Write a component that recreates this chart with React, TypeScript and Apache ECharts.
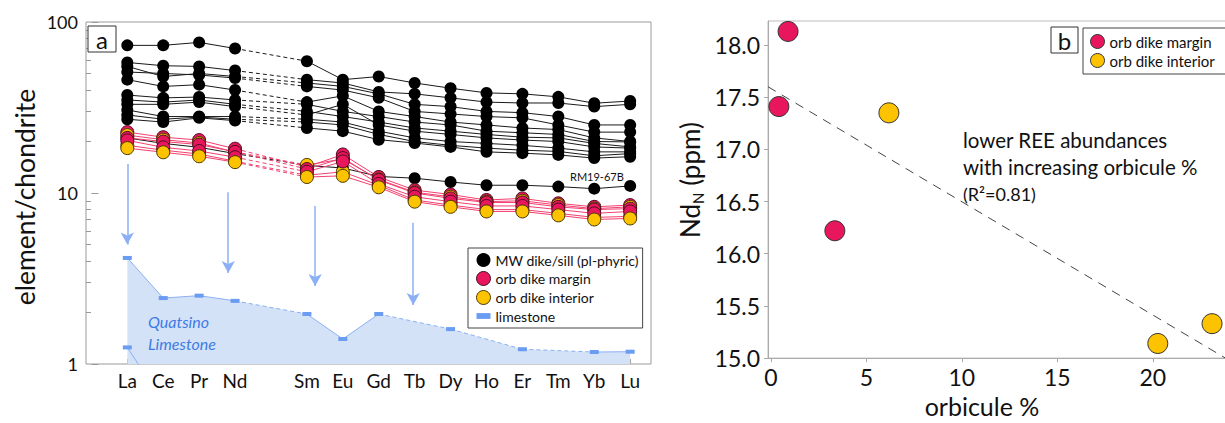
import React, { useEffect, useRef } from 'react';
import * as echarts from 'echarts';

const FONT = 'Lato';

// ---- Panel a: REE chondrite-normalized ----
const ELEMENTS = ['La', 'Ce', 'Pr', 'Nd', 'Pm', 'Sm', 'Eu', 'Gd', 'Tb', 'Dy', 'Ho', 'Er', 'Tm', 'Yb', 'Lu'];
const ELEMENT_TICKS = [1, 2, 3, 4, 5, 6, 7, 8, 9, 10, 11, 12, 13, 14, 15];
const ELEMENT_LABELS = [1, 2, 3, 4, 6, 7, 8, 9, 10, 11, 12, 13, 14, 15];

const MW_1 = [73, 73, 76, 70, null, 59, 46, 48, 44, 41, 38.5, 38, 36.5, 33.5, 34.5];
const MW_2 = [58, 55.5, 55, 52, null, 46, 44, 39, 38, 36, 34, 33.6, 33.6, 32, 33];
const MW_3 = [55, 48, 50, 48, null, 44, 42, 38, 33, 32, 30, 29.5, 28, 25, 25];
const MW_4 = [51, 50, 49, 47, null, 42, 40, 36, 30, 29, 28, 27.5, 25, 22.7, 22.7];
const MW_5 = [46, 42, 43, 40, null, 34, 37, 30, 28, 26, 25, 24, 23.5, 21, 20];
const MW_6 = [37.4, 36, 36.4, 35, null, 33, 30, 28, 26, 25, 23, 22.5, 22, 20, 19.9];
const MW_7 = [35, 34, 35, 33, null, 30, 28, 26, 24, 23, 22, 21.2, 21, 19.5, 18.6];
const MW_8 = [33, 33, 34, 32, null, 28.6, 33, 25, 23, 22, 21, 20.4, 20, 18.6, 18.3];
const MW_9 = [30.6, 28, 28, 28, null, 27, 26, 23, 21, 20, 19.5, 19, 18.3, 17.4, 17.4];
const MW_10 = [28.6, 27, 27.8, 27, null, 26, 25, 22, 20, 19, 18.3, 17.8, 17.5, 16.5, 17];
const MW_11 = [27, 26, 27.5, 26.5, null, 24, 23, 20.5, 19.6, 18.6, 17.4, 17.1, 16.7, 16, 16.3];
const RM19_67B = [21, 19.5, 18.5, 17, null, 14.5, 14, 12.5, 12.2, 11.6, 11.1, 11.1, 10.9, 10.6, 11];

const MARGIN_1 = [22.7, 21.2, 20.4, 18.15, null, 14.2, 16.8, 12.4, 10.4, 9.8, 9.1, 9.3, 8.7, 8.3, 8.5];
const MARGIN_2 = [21.0, 20.0, 19.2, 17.4, null, 13.8, 16.0, 11.9, 10.0, 9.3, 8.8, 8.8, 8.3, 8.0, 8.1];
const MARGIN_3 = [20.3, 18.5, 17.6, 16.2, null, 13.3, 15.3, 11.3, 9.5, 8.9, 8.4, 8.4, 8.0, 7.6, 7.8];
const INTERIOR_1 = [21.8, 20.5, 19.6, 17.35, null, 14.6, 15.8, 12.0, 10.1, 9.5, 8.9, 9.0, 8.5, 8.1, 8.3];
const INTERIOR_2 = [19.0, 17.8, 16.9, 15.33, null, 12.7, 13.3, 11.1, 9.1, 8.5, 8.0, 8.0, 7.6, 7.2, 7.3];
const INTERIOR_3 = [18.3, 17.3, 16.4, 15.15, null, 12.4, 12.6, 10.8, 8.9, 8.3, 7.8, 7.8, 7.4, 7.0, 7.1];

const LIMESTONE_TOP = [4.17, 2.43, 2.51, 2.34, null, 1.96, 1.4, 1.96, null, 1.6, null, 1.22, null, 1.175, 1.18];
const LIMESTONE_LOW = [1.25, 0.6, null, null, null, null, null, null, null, null, null, null, null, null, null];

// arrows: [x position, start value, tip value]
const ARROWS = [
  [1, 14.8, 5.0],
  [3.81, 10.1, 3.4],
  [6.23, 8.4, 2.86],
  [8.96, 6.7, 2.21],
];

// ---- Panel b: Nd vs orbicule % ----
const MARGIN_PTS = [[0.42, 17.41], [0.9, 18.13], [3.35, 16.22]];
const INTERIOR_PTS = [[6.18, 17.35], [20.26, 15.14], [23.1, 15.33]];
const TREND_LINE = [[-0.15, 17.6], [25, 14.87]];
const B_X_TICKS = [0, 5, 10, 15, 20, 25];
const B_X_LABELS = [0, 5, 10, 15, 20];
const B_Y_TICKS = [15, 15.5, 16, 16.5, 17, 17.5, 18];

const MINOR_LOG: number[] = [];
[2, 3, 4, 5, 6, 7, 8, 9].forEach((k) => {
  MINOR_LOG.push(Math.log10(k));
  MINOR_LOG.push(1 + Math.log10(k));
});

function lineSegs(vals: (number | null)[]) {
  const pts: any[] = [];
  vals.forEach((v, i) => {
    if (v != null) pts.push([i + 1, v]);
  });
  const solid: any[] = [];
  const dashed: any[] = [];
  pts.forEach((p, k) => {
    if (k > 0) {
      const q = pts[k - 1];
      if (p[0] - q[0] > 1) {
        solid.push([(p[0] + q[0]) / 2, '-']);
        dashed.push(q, p, [p[0], '-']);
      }
    }
    solid.push(p);
  });
  return { solid, dashed };
}

const BLACK = '#000';
const RED = '#e8175d';
const YELLOW = '#fdc300';
const PINK_LINE = '#f2406f';
const LIME_BLUE = '#6a9cf2';

function sampleSeries(name: string, vals: (number | null)[], fill: string, border: string, lineColor: string, size: number, z: number) {
  const { solid, dashed } = lineSegs(vals);
  return [
    {
      type: 'line', name, xAxisIndex: 0, yAxisIndex: 0, data: dashed, symbol: 'none', showSymbol: false,
      lineStyle: { color: lineColor, width: 1, type: [4, 3] }, z: z - 1, silent: true, connectNulls: false,
    },
    {
      type: 'line', name, xAxisIndex: 0, yAxisIndex: 0, data: solid, symbol: 'circle', symbolSize: size,
      itemStyle: { color: fill, borderColor: border, borderWidth: border === fill ? 0 : 1 },
      lineStyle: { color: lineColor, width: 1 }, z, silent: true, connectNulls: false,
    },
  ];
}

export default function App() {
  const ref = useRef<HTMLDivElement>(null);
  useEffect(() => {
    if (!ref.current) return;
    const chart = echarts.init(ref.current, null, { renderer: 'svg' });

    const series: any[] = [];
    const limeSeg = lineSegs(LIMESTONE_TOP);
    const limeFill = LIMESTONE_TOP.map((v, i) => (v == null ? null : [i + 1, v])).filter(Boolean);
    series.push({
      type: 'line', name: 'limestone', xAxisIndex: 0, yAxisIndex: 0, data: limeFill, symbol: 'none',
      lineStyle: { width: 0, opacity: 0 }, areaStyle: { color: '#d4e2f8', opacity: 1, origin: 'start' }, z: 1, silent: true,
      markLine: {
        silent: true, symbol: ['none', 'arrow'], symbolSize: [10, 12],
        lineStyle: { color: '#8db0f5', width: 1.5, type: 'solid' }, label: { show: false },
        data: ARROWS.map((a) => [{ coord: [a[0], a[1]] }, { coord: [a[0], a[2]] }]),
      },
    });
    series.push({
      type: 'line', name: 'limestone', xAxisIndex: 0, yAxisIndex: 0, data: limeSeg.dashed, symbol: 'none', showSymbol: false,
      lineStyle: { color: '#8ab0f3', width: 1, type: [4, 3] }, z: 2, silent: true,
    });
    series.push({
      type: 'line', name: 'limestone', xAxisIndex: 0, yAxisIndex: 0, data: limeSeg.solid, symbol: 'rect', symbolSize: [9, 4],
      itemStyle: { color: LIME_BLUE }, lineStyle: { color: '#8ab0f3', width: 1 }, z: 2, silent: true,
    });
    const limeLow = lineSegs(LIMESTONE_LOW);
    series.push({
      type: 'line', name: 'limestone', xAxisIndex: 0, yAxisIndex: 0, data: limeLow.solid, symbol: 'rect', symbolSize: [9, 4],
      itemStyle: { color: LIME_BLUE }, lineStyle: { color: '#8ab0f3', width: 1 }, z: 2, silent: true, clip: true,
    });

    const MW = [MW_1, MW_2, MW_3, MW_4, MW_5, MW_6, MW_7, MW_8, MW_9, MW_10, MW_11, RM19_67B];
    MW.forEach((vals) => series.push(...sampleSeries('MW dike/sill (pl-phyric)', vals, BLACK, BLACK, '#1a1a1a', 12, 4)));
    const ORB: [any, boolean][] = [
      [MARGIN_1, true], [INTERIOR_1, false], [MARGIN_2, true], [INTERIOR_2, false], [MARGIN_3, true], [INTERIOR_3, false],
    ];
    ORB.forEach(([vals, isMargin]) =>
      series.push(
        ...sampleSeries(
          isMargin ? 'orb dike margin' : 'orb dike interior', vals,
          isMargin ? RED : YELLOW, isMargin ? '#4a0c1e' : '#4a3a00', PINK_LINE, 13, 6,
        ),
      ),
    );

    // panel b
    series.push({
      type: 'line', name: 'trend', xAxisIndex: 1, yAxisIndex: 2, data: TREND_LINE, symbol: 'none',
      lineStyle: { color: '#444', width: 1, type: [9, 7] }, z: 2, silent: true, clip: true,
    });
    series.push({
      type: 'scatter', name: 'orb dike margin', xAxisIndex: 1, yAxisIndex: 2, data: MARGIN_PTS, symbolSize: 20,
      itemStyle: { color: RED, borderColor: '#333', borderWidth: 1, opacity: 1 }, z: 5, silent: true,
    });
    series.push({
      type: 'scatter', name: 'orb dike interior', xAxisIndex: 1, yAxisIndex: 2, data: INTERIOR_PTS, symbolSize: 20,
      itemStyle: { color: YELLOW, borderColor: '#333', borderWidth: 1, opacity: 1 }, z: 5, silent: true,
    });

    const option: any = {
      animation: false,
      textStyle: { fontFamily: FONT },
      grid: [
        { left: 86, top: 22, width: 565, height: 342, show: true, borderColor: '#9a9a9a', borderWidth: 1, backgroundColor: 'transparent' },
        { left: 768, top: 21, width: 500, height: 341, show: true, borderColor: '#bdbdbd', borderWidth: 1, backgroundColor: 'transparent' },
      ],
      xAxis: [
        {
          type: 'value', gridIndex: 0, min: -0.15, max: 15.58,
          axisLine: { show: false, onZero: false },
          axisTick: { show: true, inside: true, length: 5, customValues: ELEMENT_TICKS, lineStyle: { color: '#9a9a9a' } },
          axisLabel: {
            customValues: ELEMENT_LABELS, formatter: (v: number) => ELEMENTS[Math.round(v) - 1],
            fontSize: 19, color: '#111', margin: 7, fontFamily: FONT,
          },
          splitLine: { show: false },
        },
        {
          type: 'value', gridIndex: 1, min: -0.15, max: 26.03,
          axisLine: { show: true, onZero: false, lineStyle: { color: '#aaa' } },
          axisTick: { show: true, length: 4, customValues: B_X_TICKS, lineStyle: { color: '#aaa' } },
          axisLabel: { customValues: B_X_LABELS, fontSize: 23, color: '#111', margin: 7, fontFamily: FONT },
          splitLine: { show: false },
          name: 'orbicule %', nameLocation: 'middle', nameGap: 34,
          nameTextStyle: { fontSize: 25, color: '#111', fontFamily: FONT, padding: [0, 72, 0, 0] },
        },
      ],
      yAxis: [
        {
          type: 'log', logBase: 10, gridIndex: 0, min: 1, max: 100,
          axisLine: { show: false },
          axisTick: { show: true, inside: true, length: 7, lineStyle: { color: '#9a9a9a' } },
          axisLabel: { fontSize: 18, color: '#111', margin: 8, fontFamily: FONT, formatter: (v: number) => String(v) },
          splitLine: { show: false },
          minorTick: { show: false },
          name: 'element/chondrite', nameLocation: 'middle', nameGap: 48,
          nameTextStyle: { fontSize: 26.5, color: '#111', fontFamily: FONT, padding: [0, 8, 0, 0] },
        },
        {
          type: 'value', gridIndex: 0, min: 0, max: 2, position: 'left',
          axisLine: { show: false },
          axisTick: { show: true, inside: true, length: 5, customValues: MINOR_LOG, lineStyle: { color: '#9a9a9a' } },
          axisLabel: { show: false },
          splitLine: { show: false },
        },
        {
          type: 'value', gridIndex: 1, min: 15, max: 18.23,
          axisLine: { show: true, onZero: false, lineStyle: { color: '#aaa' } },
          axisTick: { show: true, length: 4, customValues: B_Y_TICKS, lineStyle: { color: '#aaa' } },
          axisLabel: {
            customValues: B_Y_TICKS, formatter: (v: number) => v.toFixed(1),
            fontSize: 23, color: '#111', margin: 8, fontFamily: FONT,
          },
          splitLine: { show: false },
          name: '{a|Nd}{s|N}{a| (ppm)}', nameLocation: 'middle', nameGap: 63,
          nameTextStyle: {
            color: '#111', fontFamily: FONT, padding: [0, 0, 0, 19],
            rich: {
              a: { fontSize: 26, color: '#111', fontFamily: FONT },
              s: { fontSize: 15, color: '#111', fontFamily: FONT, verticalAlign: 'bottom', padding: [16, 0, 0, 0] },
            },
          },
        },
      ],
      legend: [
        {
          left: 468, top: 248, orient: 'vertical', itemWidth: 14, itemHeight: 14, itemGap: 4,
          selectedMode: false, borderColor: '#444', borderWidth: 1, padding: [5, 4, 5, 8],
          textStyle: { fontSize: 14, color: '#111', fontFamily: FONT, width: 150, overflow: 'none' },
          data: [
            { name: 'MW dike/sill (pl-phyric)', icon: 'circle', itemStyle: { color: BLACK, borderWidth: 0 } },
            { name: 'orb dike margin', icon: 'circle', itemStyle: { color: RED, borderColor: '#4a0c1e', borderWidth: 1 } },
            { name: 'orb dike interior', icon: 'circle', itemStyle: { color: YELLOW, borderColor: '#4a3a00', borderWidth: 1 } },
            { name: 'limestone', icon: 'path://M0,0h12v5h-12z', itemStyle: { color: LIME_BLUE, borderWidth: 0 } },
          ],
        },
        {
          left: 1083, top: 28, orient: 'vertical', itemWidth: 14, itemHeight: 14, itemGap: 4,
          selectedMode: false, borderColor: '#444', borderWidth: 1, padding: [6, 40, 6, 7],
          textStyle: { fontSize: 15, color: '#111', fontFamily: FONT },
          data: [
            { name: 'orb dike margin', icon: 'circle', itemStyle: { color: RED, borderColor: '#333', borderWidth: 1 } },
            { name: 'orb dike interior', icon: 'circle', itemStyle: { color: YELLOW, borderColor: '#333', borderWidth: 1 } },
          ],
        },
      ],
      graphic: [
        { type: 'rect', shape: { x: 88, y: 26, width: 28, height: 26 }, style: { fill: '#fff', stroke: '#333', lineWidth: 1 }, z: 10 },
        { type: 'text', x: 102, y: 39, style: { text: 'a', fontSize: 24, fontFamily: FONT, fill: '#111', textAlign: 'center', textVerticalAlign: 'middle' }, z: 11 },
        { type: 'rect', shape: { x: 1051, y: 27, width: 27, height: 26 }, style: { fill: '#fff', stroke: '#333', lineWidth: 1 }, z: 10 },
        { type: 'text', x: 1064.5, y: 40, style: { text: 'b', fontSize: 24, fontFamily: FONT, fill: '#111', textAlign: 'center', textVerticalAlign: 'middle' }, z: 11 },
        { type: 'text', x: 148, y: 321, style: { text: 'Quatsino', fontSize: 16, fontStyle: 'italic', fontFamily: FONT, fill: '#3e7be3', textVerticalAlign: 'middle' }, z: 11 },
        { type: 'text', x: 148, y: 343, style: { text: 'Limestone', fontSize: 16, fontStyle: 'italic', fontFamily: FONT, fill: '#3e7be3', textVerticalAlign: 'middle' }, z: 11 },
        { type: 'text', x: 570, y: 176, style: { text: 'RM19-67B', fontSize: 11, fontFamily: FONT, fill: '#111', textVerticalAlign: 'middle' }, z: 11 },
        { type: 'text', x: 963, y: 140, style: { text: 'lower REE abundances', fontSize: 20.5, fontFamily: FONT, fill: '#111', textVerticalAlign: 'middle' }, z: 11 },
        { type: 'text', x: 963, y: 167, style: { text: 'with increasing orbicule %', fontSize: 20.5, fontFamily: FONT, fill: '#111', textVerticalAlign: 'middle' }, z: 11 },
        { type: 'text', x: 963, y: 194, style: { text: '(R²=0.81)', fontSize: 18, fontFamily: FONT, fill: '#111', textVerticalAlign: 'middle' }, z: 11 },
      ],
      series,
    };
    chart.setOption(option);
    return () => chart.dispose();
  }, []);
  return (
    <div style={{ position: 'absolute', left: 0, top: 0, width: 1225, height: 423, overflow: 'hidden', background: '#fff' }}>
      <div ref={ref} style={{ position: 'absolute', left: 0, top: 0, width: 1300, height: 423 }} />
    </div>
  );
}
